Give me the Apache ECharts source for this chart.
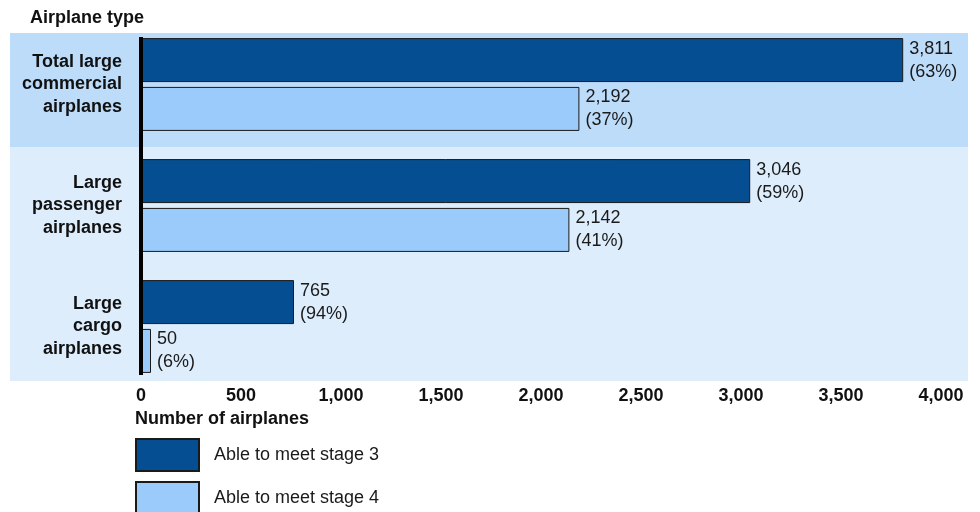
<!DOCTYPE html>
<html><head><meta charset="utf-8">
<script src="https://cdn.jsdelivr.net/npm/echarts@6/dist/echarts.min.js"></script>
<style>html,body{margin:0;padding:0;background:#fff}#c{width:980px;height:512px}</style>
</head><body><div id="c"></div>
<script>
const categories = ['Total large\ncommercial\nairplanes', 'Large\npassenger\nairplanes', 'Large\ncargo\nairplanes'];
const seriesNames = ['Able to meet stage 3', 'Able to meet stage 4'];
const stage3 = [3811, 3046, 765];
const stage4 = [2192, 2142, 50];
const stage3Pct = [63, 59, 94];
const stage4Pct = [37, 41, 6];
const xTicks = [0, 500, 1000, 1500, 2000, 2500, 3000, 3500, 4000];

const FONT = '"Liberation Sans", Arial, Helvetica, sans-serif';
const fmt = v => v.toLocaleString('en-US');
const chart = echarts.init(document.getElementById('c'), null, {renderer: 'canvas'});

function lbl(pcts) {
  return {
    show: true, position: 'right', distance: 6,
    fontFamily: FONT, fontSize: 18, color: '#1a1a1a', lineHeight: 23, align: 'left',
    formatter: p => fmt(p.value) + '\n(' + pcts[p.dataIndex] + '%)'
  };
}
function legendAt(name, top) {
  return {
    orient: 'vertical', left: 130, top: top, itemWidth: 63, itemHeight: 32,
    data: [name],
    textStyle: {fontFamily: FONT, fontSize: 18, color: '#1a1a1a', padding: [0, 0, 0, 10]},
    icon: 'rect'
  };
}

chart.setOption({
  animation: false,
  textStyle: {fontFamily: FONT},
  title: [
    {text: 'Airplane type', left: 25, top: 4, textStyle: {fontFamily: FONT, fontSize: 18, fontWeight: 'bold', color: '#111'}},
    {text: 'Number of airplanes', left: 130, top: 405, textStyle: {fontFamily: FONT, fontSize: 18, fontWeight: 'bold', color: '#111'}}
  ],
  graphic: [
    {type: 'rect', z: -10, shape: {x: 10, y: 33, width: 958, height: 114}, style: {fill: '#BDDCFA'}},
    {type: 'rect', z: -10, shape: {x: 10, y: 147, width: 958, height: 234}, style: {fill: '#DDEDFC'}},
    {type: 'line', z: 100, shape: {x1: 141, y1: 37, x2: 141, y2: 375}, style: {stroke: '#000', lineWidth: 4}}
  ],
  legend: [legendAt(seriesNames[0], 433), legendAt(seriesNames[1], 476)],
  grid: {left: 141, width: 800, top: 24, height: 363, containLabel: false},
  xAxis: {
    type: 'value', min: 0, max: 4000, interval: 500,
    axisLine: {show: false}, axisTick: {show: false}, splitLine: {show: false},
    axisLabel: {fontFamily: FONT, fontSize: 18, fontWeight: 'bold', color: '#111', margin: 0, formatter: v => fmt(v)}
  },
  yAxis: {
    type: 'category', inverse: true, data: categories,
    axisLine: {show: false}, axisTick: {show: false},
    axisLabel: {fontFamily: FONT, fontSize: 18, fontWeight: 'bold', color: '#111', lineHeight: 22.5, align: 'right', margin: 19}
  },
  series: [
    {name: seriesNames[0], type: 'bar', data: stage3, barWidth: 44, barGap: '11%',
     itemStyle: {color: '#044E91', borderColor: '#1a1a1a', borderWidth: 1}, label: lbl(stage3Pct)},
    {name: seriesNames[1], type: 'bar', data: stage4, barWidth: 44, barGap: '11%',
     itemStyle: {color: '#9BCBFA', borderColor: '#1a1a1a', borderWidth: 1}, label: lbl(stage4Pct)}
  ]
});
</script></body></html>
